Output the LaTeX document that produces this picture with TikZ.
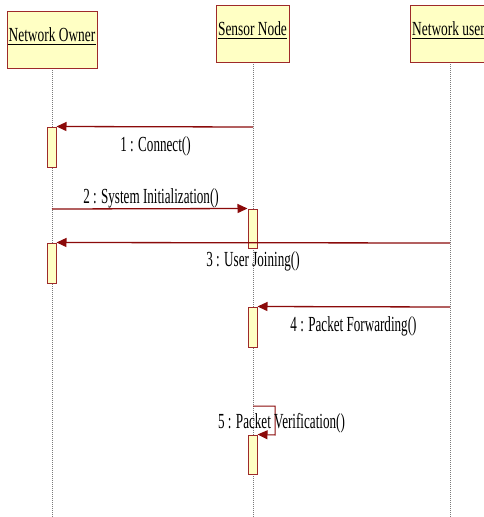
\documentclass[tikz,border=0pt]{standalone}
\usepackage{fontspec}
\setmainfont{Liberation Serif}[FakeStretch=0.67]
\newfontfamily\msgfont{Liberation Serif}[FakeStretch=0.61]
\usetikzlibrary{arrows.meta}
\definecolor{boxfill}{HTML}{FFFFC4}
\definecolor{boxline}{HTML}{9E2A2A}
\definecolor{msg}{HTML}{8B0A0A}
\definecolor{life}{HTML}{7A7A7A}

\tikzset{
  lbl/.style={font=\fontsize{20}{24}\selectfont, inner sep=0pt, anchor=base},
  mlbl/.style={font=\msgfont\fontsize{21.5}{25}\selectfont, inner sep=0pt, anchor=base},
  objbox/.style={draw=boxline, fill=boxfill, line width=1pt, inner sep=0pt},
  actbox/.style={draw=boxline, fill=boxfill, line width=1pt, minimum width=9pt, inner sep=0pt},
  lifeline/.style={life, line width=0.8pt, dash pattern=on 1pt off 1pt},
  msgline/.style={msg, line width=1.3pt, -{Triangle[length=10pt,width=9pt]}},
  selfline/.style={msg, line width=1pt, -{Triangle[length=10pt,width=9pt]}},
  uline/.style={black, line width=1.3pt},
}

\begin{document}
\begin{tikzpicture}[x=1pt, y=-1pt]
  \useasboundingbox (0,0) rectangle (484,517);
  \clip (0,0) rectangle (484,517);

  % lifelines
  \coordinate (ownerTop) at (52,68);
  \coordinate (ownerEnd) at (52,517);
  \coordinate (sensorTop) at (253,62);
  \coordinate (sensorEnd) at (253,517);
  \coordinate (userTop) at (450,62);
  \coordinate (userEnd) at (450,517);
  \draw[lifeline] (ownerTop) -- (ownerEnd);
  \draw[lifeline] (sensorTop) -- (sensorEnd);
  \draw[lifeline] (userTop) -- (userEnd);

  % object heads
  \node[objbox, minimum width=90pt, minimum height=57pt] (owner) at (52,39.5) {};
  \node[lbl] (ownerT) at (52,41.5) {Network Owner};
  \draw[uline] ([yshift=-2.8pt]ownerT.base west) -- ([yshift=-2.8pt]ownerT.base east);

  \node[objbox, minimum width=73pt, minimum height=57pt] (sensor) at (252.5,33.5) {};
  \node[lbl] (sensorT) at (252.5,35.5) {Sensor Node};
  \draw[uline] ([yshift=-2.8pt]sensorT.base west) -- ([yshift=-2.8pt]sensorT.base east);

  \node[objbox, minimum width=80pt, minimum height=57pt] (user) at (450.5,33.5) {};
  \node[lbl, anchor=base west] (userT) at (412,35.5) {Network user};
  \draw[uline] ([yshift=-2.8pt]userT.base west) -- ([yshift=-2.8pt]userT.base east);

  % activation bars
  \node[actbox, minimum height=40pt] (actO1) at (51.5,147) {};
  \node[actbox, minimum height=39pt] (actS1) at (252.5,228.5) {};
  \node[actbox, minimum height=40pt] (actO2) at (51.5,263) {};
  \node[actbox, minimum height=40pt] (actS2) at (252.5,327) {};
  \node[actbox, minimum height=39pt] (actS3) at (252.5,454.5) {};

  % message anchors on lifelines
  \coordinate (m1) at (253,127);
  \coordinate (m2) at (52,209);
  \coordinate (m3) at (450,243);
  \coordinate (m4) at (450,307);
  \coordinate (m5) at (253,406);
  \coordinate (m5r) at (275,406);
  \coordinate (m5b) at (275,435);

  % messages
  \draw[msgline] (m1) -- (actO1.north east);
  \node[mlbl] (l1) at (155.5,151) {1 : Connect()};

  \draw[msgline] (m2) -- (actS1.north west);
  \node[mlbl] (l2) at (151,203) {2 : System Initialization()};

  \draw[msgline] (m3) -- (actO2.north east);
  \node[mlbl] (l3) at (253,266.5) {3 : User Joining()};

  \draw[msgline] (m4) -- (actS2.north east);
  \node[mlbl] (l4) at (353.5,331) {4 : Packet Forwarding()};

  \draw[selfline] (m5) -- (m5r) -- (m5b) -- (actS3.north east);
  \node[mlbl] (l5) at (281.5,428) {5 : Packet Verification()};
\end{tikzpicture}
\end{document}
